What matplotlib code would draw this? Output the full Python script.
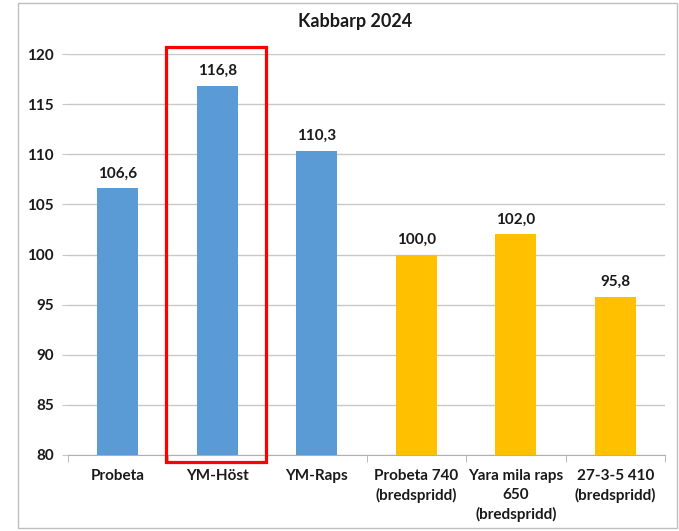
import matplotlib
matplotlib.use("Agg")
import matplotlib.pyplot as plt
from matplotlib.patches import Rectangle

categories = ["Probeta", "YM-Höst", "YM-Raps", "Probeta 740\n(bredspridd)",
              "Yara mila raps\n650\n(bredspridd)", "27-3-5 410\n(bredspridd)"]
values = [106.6, 116.8, 110.3, 100.0, 102.0, 95.8]
labels = ["106,6", "116,8", "110,3", "100,0", "102,0", "95,8"]
colors = ["#5B9BD5", "#5B9BD5", "#5B9BD5", "#FFC000", "#FFC000", "#FFC000"]
yticks = [80, 85, 90, 95, 100, 105, 110, 115, 120]

plt.rcParams['font.family'] = ['Lato', 'DejaVu Sans']

W, H = 679, 531
fig = plt.figure(figsize=(W / 100, H / 100), dpi=100)
ax = fig.add_axes([68 / W, 1 - 455 / H, (665 - 68) / W, (455 - 54) / H])

x = list(range(len(categories)))
ax.bar(x, [v - 80 for v in values], bottom=80, width=0.41, color=colors, zorder=3)
for xi, v, lab in zip(x, values, labels):
    ax.text(xi, v + 0.8, lab, ha="center", va="bottom", fontsize=11,
            fontweight="bold", color="#1a1a1a")

ax.set_xlim(-0.5, len(categories) - 0.5)
ax.set_ylim(80, 120)
ax.set_yticks(yticks)
ax.set_yticklabels([str(t) for t in yticks], fontsize=11, fontweight="bold", color="#1a1a1a")
ax.yaxis.grid(True, color="#C8C8C8", linewidth=1.0, zorder=0)
ax.tick_params(axis="y", length=4, color="#C8C8C8", pad=6)

ax.set_xticks(x)
ax.set_xticklabels(categories, fontsize=11, fontweight="bold", color="#1a1a1a",
                   linespacing=1.45)
ax.tick_params(axis="x", length=0, pad=10)
ax.set_xticks([i - 0.5 for i in range(len(categories) + 1)], minor=True)
ax.tick_params(axis="x", which="minor", length=5, color="#B0B0B0")

for s in ["top", "right", "left"]:
    ax.spines[s].set_visible(False)
ax.spines["bottom"].set_color("#B0B0B0")

ax.add_patch(Rectangle((0.48, 79.3), 1.01, 41.4, fill=False, edgecolor="#FF0000",
                       linewidth=2.3, clip_on=False, zorder=5))

fig.text(355 / W, 1 - 22 / H, "Kabbarp 2024", ha="center", va="center",
         fontsize=13, fontweight="bold", color="#1a1a1a")

# outer frame
fig.patches.append(Rectangle((18 / W, 1 - 528 / H), (677 - 18) / W, (528 - 3) / H,
                             transform=fig.transFigure, fill=False,
                             edgecolor="#BFBFBF", linewidth=1.0))

fig.savefig("out.png", dpi=100)
